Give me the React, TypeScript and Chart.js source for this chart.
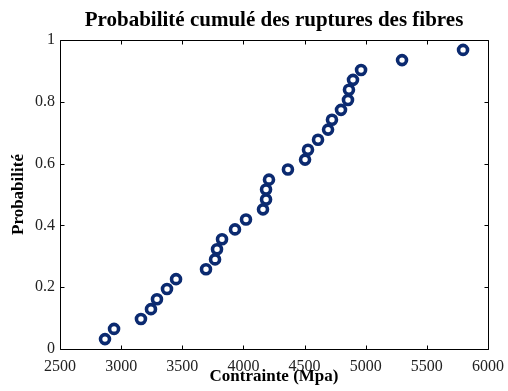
import React, { useEffect, useRef } from 'react';
import { Chart, registerables } from 'chart.js';

Chart.register(...registerables);

const contrainte = [2868, 2942, 3162, 3244, 3293, 3375, 3449, 3694, 3768, 3784, 3825, 3931, 4021, 4160, 4185, 4185, 4209, 4364, 4504, 4528, 4610, 4692, 4724, 4798, 4855, 4863, 4896, 4962, 5297, 5796];
const probabilite = [0.032, 0.065, 0.097, 0.129, 0.161, 0.194, 0.226, 0.258, 0.290, 0.323, 0.355, 0.387, 0.419, 0.452, 0.484, 0.516, 0.548, 0.581, 0.613, 0.645, 0.677, 0.710, 0.742, 0.774, 0.806, 0.839, 0.871, 0.903, 0.935, 0.968];
const xTicks = [2500, 3000, 3500, 4000, 4500, 5000, 5500, 6000];
const yTicks = [0, 0.2, 0.4, 0.6, 0.8, 1];

const FONT = "'Liberation Serif', 'Times New Roman', serif";
const MARKER = '#0b2a70';

const framePlugin = {
  id: 'matlabFrame',
  afterDatasetsDraw(chart: any) {
    const { ctx, chartArea } = chart;
    const { left, right, top, bottom } = chartArea;
    const xs = chart.scales.x;
    const ys = chart.scales.y;
    const L = 4;
    ctx.save();
    ctx.strokeStyle = '#000';
    ctx.lineWidth = 1;
    ctx.beginPath();
    const l = Math.round(left) + 0.5, r = Math.round(right) + 0.5;
    const t = Math.round(top) + 0.5, b = Math.round(bottom) + 0.5;
    ctx.rect(l, t, r - l, b - t);
    xTicks.forEach((v) => {
      const px = Math.round(xs.getPixelForValue(v)) + 0.5;
      ctx.moveTo(px, b); ctx.lineTo(px, b - L);
      ctx.moveTo(px, t); ctx.lineTo(px, t + L);
    });
    yTicks.forEach((v) => {
      const py = Math.round(ys.getPixelForValue(v)) + 0.5;
      ctx.moveTo(l, py); ctx.lineTo(l + L, py);
      ctx.moveTo(r, py); ctx.lineTo(r - L, py);
    });
    ctx.stroke();
    ctx.restore();
  },
};

export default function App() {
  const ref = useRef<HTMLCanvasElement | null>(null);
  useEffect(() => {
    document.body.style.margin = '0';
    const canvas = ref.current;
    if (!canvas) return;
    const chart = new Chart(canvas, {
      type: 'scatter',
      data: {
        datasets: [
          {
            data: contrainte.map((x, i) => ({ x, y: probabilite[i] })),
            pointRadius: 4.5,
            pointBorderWidth: 3.6,
            pointBorderColor: MARKER,
            pointBackgroundColor: '#ffffff',
            showLine: false,
          },
        ],
      },
      options: {
        responsive: false,
        animation: false,
        devicePixelRatio: 1,
        layout: { padding: { left: 0, right: 20, top: 0, bottom: 0 } },
        plugins: {
          legend: { display: false },
          tooltip: { enabled: false },
          title: {
            display: true,
            fullSize: false,
            text: 'Probabilité cumulé des ruptures des fibres',
            color: '#000',
            font: { family: FONT, size: 21, weight: 'bold', lineHeight: 1.2 },
            padding: { top: 8, bottom: 6.8 },
          },
        },
        scales: {
          x: {
            type: 'linear',
            min: 2500,
            max: 6000,
            afterBuildTicks: (s: any) => {
              s.ticks = xTicks.map((v) => ({ value: v }));
            },
            afterFit: (s: any) => {
              s.height = 42;
              s.paddingLeft = 0;
              s.paddingRight = 0;
            },
            grid: { display: false, drawTicks: false },
            border: { display: false },
            ticks: {
              color: '#222',
              font: { family: FONT, size: 16 },
              padding: 8,
              maxRotation: 0,
              autoSkip: false,
              callback: (v: any) => String(v),
            },
            title: {
              display: true,
              text: 'Contrainte (Mpa)',
              color: '#000',
              font: { family: FONT, size: 17, weight: 'bold', lineHeight: 1.2 },
              padding: { top: 0, bottom: 4 },
            },
          },
          y: {
            type: 'linear',
            min: 0,
            max: 1,
            afterBuildTicks: (s: any) => {
              s.ticks = yTicks.map((v) => ({ value: v }));
            },
            afterFit: (s: any) => {
              s.width = 60;
              s.paddingTop = 0;
              s.paddingBottom = 0;
            },
            grid: { display: false, drawTicks: false },
            border: { display: false },
            ticks: {
              color: '#222',
              font: { family: FONT, size: 16 },
              padding: 5,
              autoSkip: false,
              callback: (v: any) => String(+Number(v).toFixed(1)),
            },
            title: {
              display: true,
              text: 'Probabilité',
              color: '#000',
              font: { family: FONT, size: 17, weight: 'bold', lineHeight: 1.2 },
              padding: { top: 8, bottom: 0 },
            },
          },
        },
      },
      plugins: [framePlugin],
    });
    return () => chart.destroy();
  }, []);
  return (
    <div style={{ width: 508, height: 391 }}>
      <canvas ref={ref} width={508} height={391} style={{ display: 'block' }} />
    </div>
  );
}
